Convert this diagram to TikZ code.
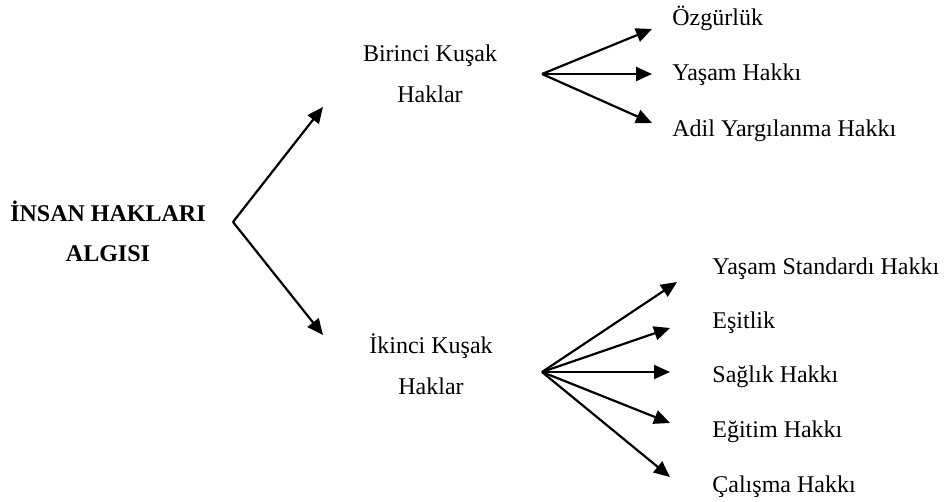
\documentclass[tikz,border=0pt]{standalone}
\usepackage{fontspec}
\setmainfont{Liberation Serif}
\usetikzlibrary{positioning,arrows.meta}
\tikzset{
  hakbaslik/.style={font=\fontsize{12}{20.5}\selectfont\bfseries, align=center, inner sep=0pt, anchor=base},
  kusakbox/.style={font=\fontsize{12}{20.5}\selectfont, align=center, inner sep=0pt, anchor=base},
  hakitem/.style={font=\fontsize{12}{14}\selectfont, inner sep=0pt, anchor=base west},
  hakarrow/.style={-{Triangle[length=8pt,width=7pt]}, line width=1.1pt},
}

\begin{document}
\begin{tikzpicture}[x=0.5pt, y=-0.5pt]
  \useasboundingbox (0,0) rectangle (947,502);
  % ana kavram
  \node[hakbaslik] (insan) at (108,262) {İNSAN HAKLARI\\ALGISI};
  \coordinate (catal) at (233,222);
  \coordinate (birinciuc) at (323,107);
  \coordinate (ikinciuc) at (323,335);
  \draw[hakarrow] (catal) -- (birinciuc);
  \draw[hakarrow] (catal) -- (ikinciuc);
  % kuşaklar
  \node[kusakbox] (birinci) at (430,103) {Birinci Kuşak\\Haklar};
  \node[kusakbox] (ikinci) at (431,394) {İkinci Kuşak\\Haklar};
  % birinci kuşak hakları
  \coordinate (bcatal) at (542,74);
  \foreach \t/\ty/\ay [count=\i] in {Özgürlük/26/29, Yaşam Hakkı/81/74, Adil Yargılanma Hakkı/137/123}{
    \node[hakitem] (b\i) at (672,\ty) {\t};
    \coordinate (bu\i) at (652,\ay);
    \draw[hakarrow] (bcatal) -- (bu\i);
  }
  % ikinci kuşak hakları
  \coordinate (icatal) at (542,372);
  \foreach \t/\ty/\ax/\ay [count=\i] in {Yaşam Standardı Hakkı/275/677/282, Eşitlik/328/670/328,
      Sağlık Hakkı/382/670/372, Eğitim Hakkı/437/670/423, Çalışma Hakkı/492/670/477}{
    \node[hakitem] (i\i) at (712,\ty) {\t};
    \coordinate (iu\i) at (\ax,\ay);
    \draw[hakarrow] (icatal) -- (iu\i);
  }
\end{tikzpicture}
\end{document}
